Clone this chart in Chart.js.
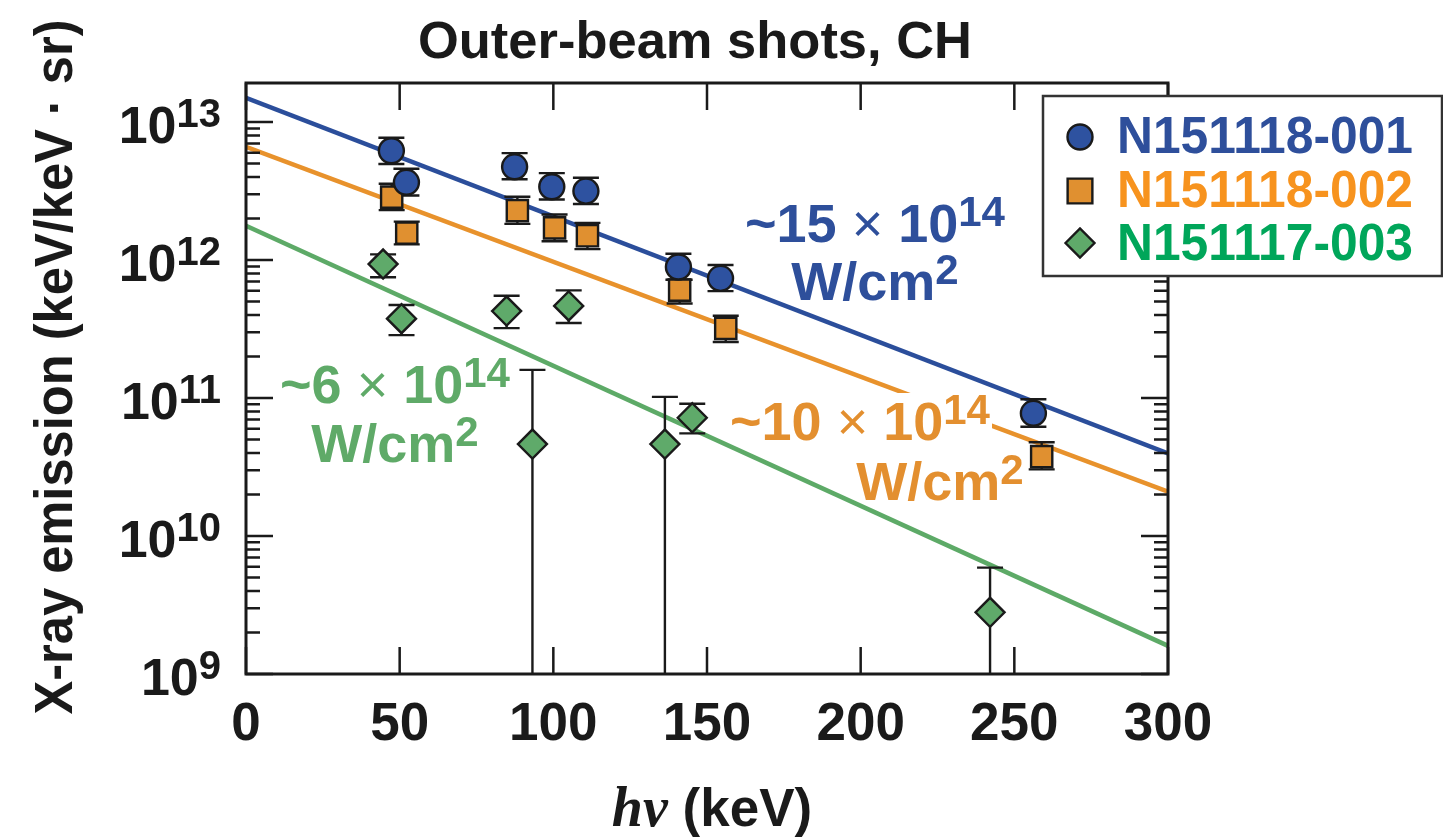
<!DOCTYPE html>
<html lang="en">
<head>
    <meta charset="UTF-8">
    <title>Outer-beam shots, CH</title>
    <script src="https://cdn.jsdelivr.net/npm/chart.js"></script>
    <style>
        body { margin: 0; background: #fff; }
        canvas { display: block; }
    </style>
</head>
<body>
    <canvas id="xrayChart" width="1443" height="839"></canvas>

    <script>
        // photon energy (keV), emission and error bar limits
        const blueX  = [47.3, 52.2, 87.4, 99.5, 110.6, 140.7, 154.4, 256.2];
        const blueY  = [6.2e12, 3.66e12, 4.74e12, 3.4e12, 3.16e12, 8.9e11, 7.37e11, 7.75e10];
        const blueLo = [4.97e12, 2.94e12, 3.85e12, 2.75e12, 2.55e12, 7.2e11, 5.96e11, 6.2e10];
        const blueHi = [7.7e12, 4.59e12, 5.96e12, 4.27e12, 3.95e12, 1.11e12, 9.2e11, 9.8e10];

        const orangeX  = [47.4, 52.3, 88.3, 100.4, 111.1, 141.1, 156.1, 258.9];
        const orangeY  = [2.86e12, 1.57e12, 2.28e12, 1.71e12, 1.5e12, 6.06e11, 3.2e11, 3.76e10];
        const orangeLo = [2.3e12, 1.3e12, 1.83e12, 1.37e12, 1.2e12, 4.85e11, 2.55e11, 3.04e10];
        const orangeHi = [3.57e12, 1.9e12, 2.88e12, 2.14e12, 1.86e12, 7.2e11, 3.95e11, 4.78e10];

        // null lower limit = bar runs off the bottom of the plot
        const greenX  = [44.6, 50.6, 84.8, 93.2, 105, 136.3, 145.2, 242.1];
        const greenY  = [9.36e11, 3.76e11, 4.27e11, 4.64e10, 4.65e11, 4.64e10, 7.2e10, 2.8e9];
        const greenLo = [7.5e11, 2.86e11, 3.21e11, null, 3.5e11, null, 5.55e10, null];
        const greenHi = [1.1e12, 4.72e11, 5.51e11, 1.6e11, 6.03e11, 1.02e11, 9.1e10, 5.9e9];

        // exponential fits (straight on the log axis)
        const fitX = [0, 300];
        const fitBlue = [1.5e13, 3.97e10];
        const fitOrange = [6.62e12, 2.1e10];
        const fitGreen = [1.77e12, 1.6e9];

        const seriesNames = ['N151118-001', 'N151118-002', 'N151117-003'];
        const xTicks = [0, 50, 100, 150, 200, 250, 300];
        const yDecades = [9, 10, 11, 12, 13];

        const INK = '#1a1a1a';
        const FONT = '"Liberation Sans", Arial, sans-serif';

        const pts = (xs, ys) => xs.map((x, i) => ({ x: x, y: ys[i] }));

        const fitLine = (ys, color) => ({
            data: pts(fitX, ys),
            showLine: true,
            borderColor: color,
            borderWidth: 4.5,
            pointRadius: 0,
            fill: false
        });

        const markers = (label, xs, ys, style, radius, fill) => ({
            label: label,
            data: pts(xs, ys),
            pointStyle: style,
            pointRadius: radius,
            pointBackgroundColor: fill,
            pointBorderColor: INK,
            pointBorderWidth: 2.4
        });

        const errSets = [
            { xs: blueX, lo: blueLo, hi: blueHi },
            { xs: orangeX, lo: orangeLo, hi: orangeHi },
            { xs: greenX, lo: greenLo, hi: greenHi }
        ];

        // draws text made of several runs (different fonts / raised exponents)
        function drawRuns(ctx, runs, cx, baseline, color) {
            let total = 0;
            runs.forEach(r => { ctx.font = r.font; r.w = ctx.measureText(r.text).width; total += r.w; });
            let x = cx - total / 2;
            ctx.fillStyle = color;
            ctx.textAlign = 'left';
            ctx.textBaseline = 'alphabetic';
            runs.forEach(r => {
                ctx.font = r.font;
                ctx.fillText(r.text, x, baseline + (r.dy || 0));
                x += r.w;
            });
            return { left: cx - total / 2, right: cx + total / 2 };
        }

        function fitText(ctx, text, font, x, y, width, align) {
            ctx.font = font;
            const w = ctx.measureText(text).width;
            ctx.save();
            ctx.translate(x, y);
            ctx.scale(width / w, 1);
            ctx.textAlign = align;
            ctx.textBaseline = 'alphabetic';
            ctx.fillText(text, 0, 0);
            ctx.restore();
        }

        const errorBars = {
            id: 'errorBars',
            beforeDatasetDraw(chart, args) {
                if (args.index !== 2) return; // green markers are drawn first
                const ctx = chart.ctx, xs = chart.scales.x, ys = chart.scales.y, area = chart.chartArea;
                ctx.save();
                ctx.strokeStyle = INK;
                ctx.lineWidth = 2.4;
                errSets.forEach(s => {
                    s.xs.forEach((xv, i) => {
                        const px = xs.getPixelForValue(xv);
                        const top = ys.getPixelForValue(s.hi[i]);
                        const bot = s.lo[i] === null ? area.bottom : ys.getPixelForValue(s.lo[i]);
                        ctx.beginPath();
                        ctx.moveTo(px, top); ctx.lineTo(px, bot);
                        ctx.moveTo(px - 13, top); ctx.lineTo(px + 13, top);
                        if (s.lo[i] !== null) { ctx.moveTo(px - 13, bot); ctx.lineTo(px + 13, bot); }
                        ctx.stroke();
                    });
                });
                ctx.restore();
            }
        };

        const frameAndLabels = {
            id: 'frameAndLabels',
            afterDraw(chart) {
                const ctx = chart.ctx, xs = chart.scales.x, ys = chart.scales.y, a = chart.chartArea;
                ctx.save();

                // inward tick marks
                ctx.strokeStyle = INK;
                ctx.lineWidth = 2.5;
                ctx.beginPath();
                xTicks.forEach(v => {
                    const px = xs.getPixelForValue(v);
                    ctx.moveTo(px, a.bottom); ctx.lineTo(px, a.bottom - 27);
                    ctx.moveTo(px, a.top); ctx.lineTo(px, a.top + 27);
                });
                yDecades.forEach(d => {
                    for (let m = 1; m <= 9; m++) {
                        const v = m * Math.pow(10, d);
                        if (v > ys.max) break;
                        const py = ys.getPixelForValue(v);
                        const len = m === 1 ? 27 : 14;
                        ctx.moveTo(a.left, py); ctx.lineTo(a.left + len, py);
                        ctx.moveTo(a.right, py); ctx.lineTo(a.right - len, py);
                    }
                });
                ctx.stroke();

                ctx.lineWidth = 3;
                ctx.strokeRect(a.left, a.top, a.right - a.left, a.bottom - a.top);

                // tick labels
                ctx.fillStyle = INK;
                ctx.textAlign = 'center';
                ctx.textBaseline = 'alphabetic';
                ctx.font = 'bold 53px ' + FONT;
                xTicks.forEach(v => ctx.fillText(String(v), xs.getPixelForValue(v), 740));

                yDecades.forEach(d => {
                    const py = ys.getPixelForValue(Math.pow(10, d));
                    ctx.textAlign = 'right';
                    ctx.font = 'bold 40px ' + FONT;
                    const ew = ctx.measureText(String(d)).width;
                    ctx.fillText(String(d), 221, py + 5);
                    ctx.font = 'bold 52px ' + FONT;
                    ctx.fillText('10', 221 - ew, py + 21);
                });

                // titles
                fitText(ctx, 'Outer-beam shots, CH', 'bold 52px ' + FONT, 695, 58, 554, 'center');
                ctx.save();
                ctx.translate(72, 367);
                ctx.rotate(-Math.PI / 2);
                fitText(ctx, 'X-ray emission (keV/keV \u00b7 sr)', 'bold 54px ' + FONT, 0, 0, 695, 'center');
                ctx.restore();
                drawRuns(ctx, [
                    { text: 'h\u03bd', font: 'bold italic 56px "Liberation Serif", serif' },
                    { text: ' (keV)', font: 'bold 53px ' + FONT }
                ], 712, 826, INK);

                // annotations
                const big = 'bold 54px ' + FONT, times = '54px ' + FONT, sup = 'bold 42px ' + FONT;
                const intensity = (n) => [
                    { text: '~' + n, font: big },
                    { text: ' \u00d7 ', font: times },
                    { text: '10', font: big },
                    { text: '14', font: sup, dy: -16 }
                ];
                const wcm = [{ text: 'W/cm', font: big }, { text: '2', font: sup, dy: -16 }];

                drawRuns(ctx, intensity('15'), 875, 242, '#2E4F9B');
                drawRuns(ctx, wcm, 875, 300, '#2E4F9B');

                // orange label sits on a white patch that interrupts the orange fit
                ctx.fillStyle = '#fff';
                ctx.fillRect(862, 393, 130, 54);
                drawRuns(ctx, intensity('10'), 860, 440, '#E38F2F');
                drawRuns(ctx, wcm, 940, 500, '#E38F2F');

                drawRuns(ctx, intensity('6'), 395, 403, '#5FAA68');
                drawRuns(ctx, wcm, 395, 462, '#5FAA68');

                // legend box
                ctx.fillStyle = '#fff';
                ctx.fillRect(1043, 96, 399, 180);
                ctx.strokeStyle = '#333';
                ctx.lineWidth = 2.5;
                ctx.strokeRect(1043, 96, 399, 180);

                const legendRows = [
                    { style: 'circle', r: 12.5, fill: '#2E52A0', text: '#2E4F9B', y: 137, base: 153 },
                    { style: 'rect', r: 17.5, fill: '#E09030', text: '#F7931E', y: 191, base: 207 },
                    { style: 'rectRot', r: 14.5, fill: '#5FAA6A', text: '#00A65A', y: 243, base: 260 }
                ];
                legendRows.forEach((row, i) => {
                    ctx.fillStyle = row.fill;
                    ctx.strokeStyle = INK;
                    ctx.lineWidth = 2.4;
                    Chart.helpers.drawPoint(ctx, { pointStyle: row.style, radius: row.r, rotation: 0, borderWidth: 2.4 }, 1080, row.y);
                    ctx.fillStyle = row.text;
                    fitText(ctx, seriesNames[i], 'bold 52px ' + FONT, 1117, row.base, 296, 'left');
                });

                ctx.restore();
            }
        };

        new Chart(document.getElementById('xrayChart').getContext('2d'), {
            type: 'scatter',
            data: {
                datasets: [
                    markers(seriesNames[0], blueX, blueY, 'circle', 12.5, '#2E52A0'),
                    markers(seriesNames[1], orangeX, orangeY, 'rect', 15, '#E09030'),
                    markers(seriesNames[2], greenX, greenY, 'rectRot', 14.5, '#5FAA6A'),
                    fitLine(fitBlue, '#2B4E9B'),
                    fitLine(fitOrange, '#E8922C'),
                    fitLine(fitGreen, '#5DAA67')
                ]
            },
            options: {
                responsive: false,
                animation: false,
                layout: { padding: { left: 246, right: 275, top: 83, bottom: 165 } },
                plugins: {
                    legend: { display: false },
                    tooltip: { enabled: false }
                },
                scales: {
                    x: { type: 'linear', min: 0, max: 300, display: false },
                    y: { type: 'logarithmic', min: 1e9, max: 1.92e13, display: false }
                }
            },
            plugins: [errorBars, frameAndLabels]
        });
    </script>
</body>
</html>
